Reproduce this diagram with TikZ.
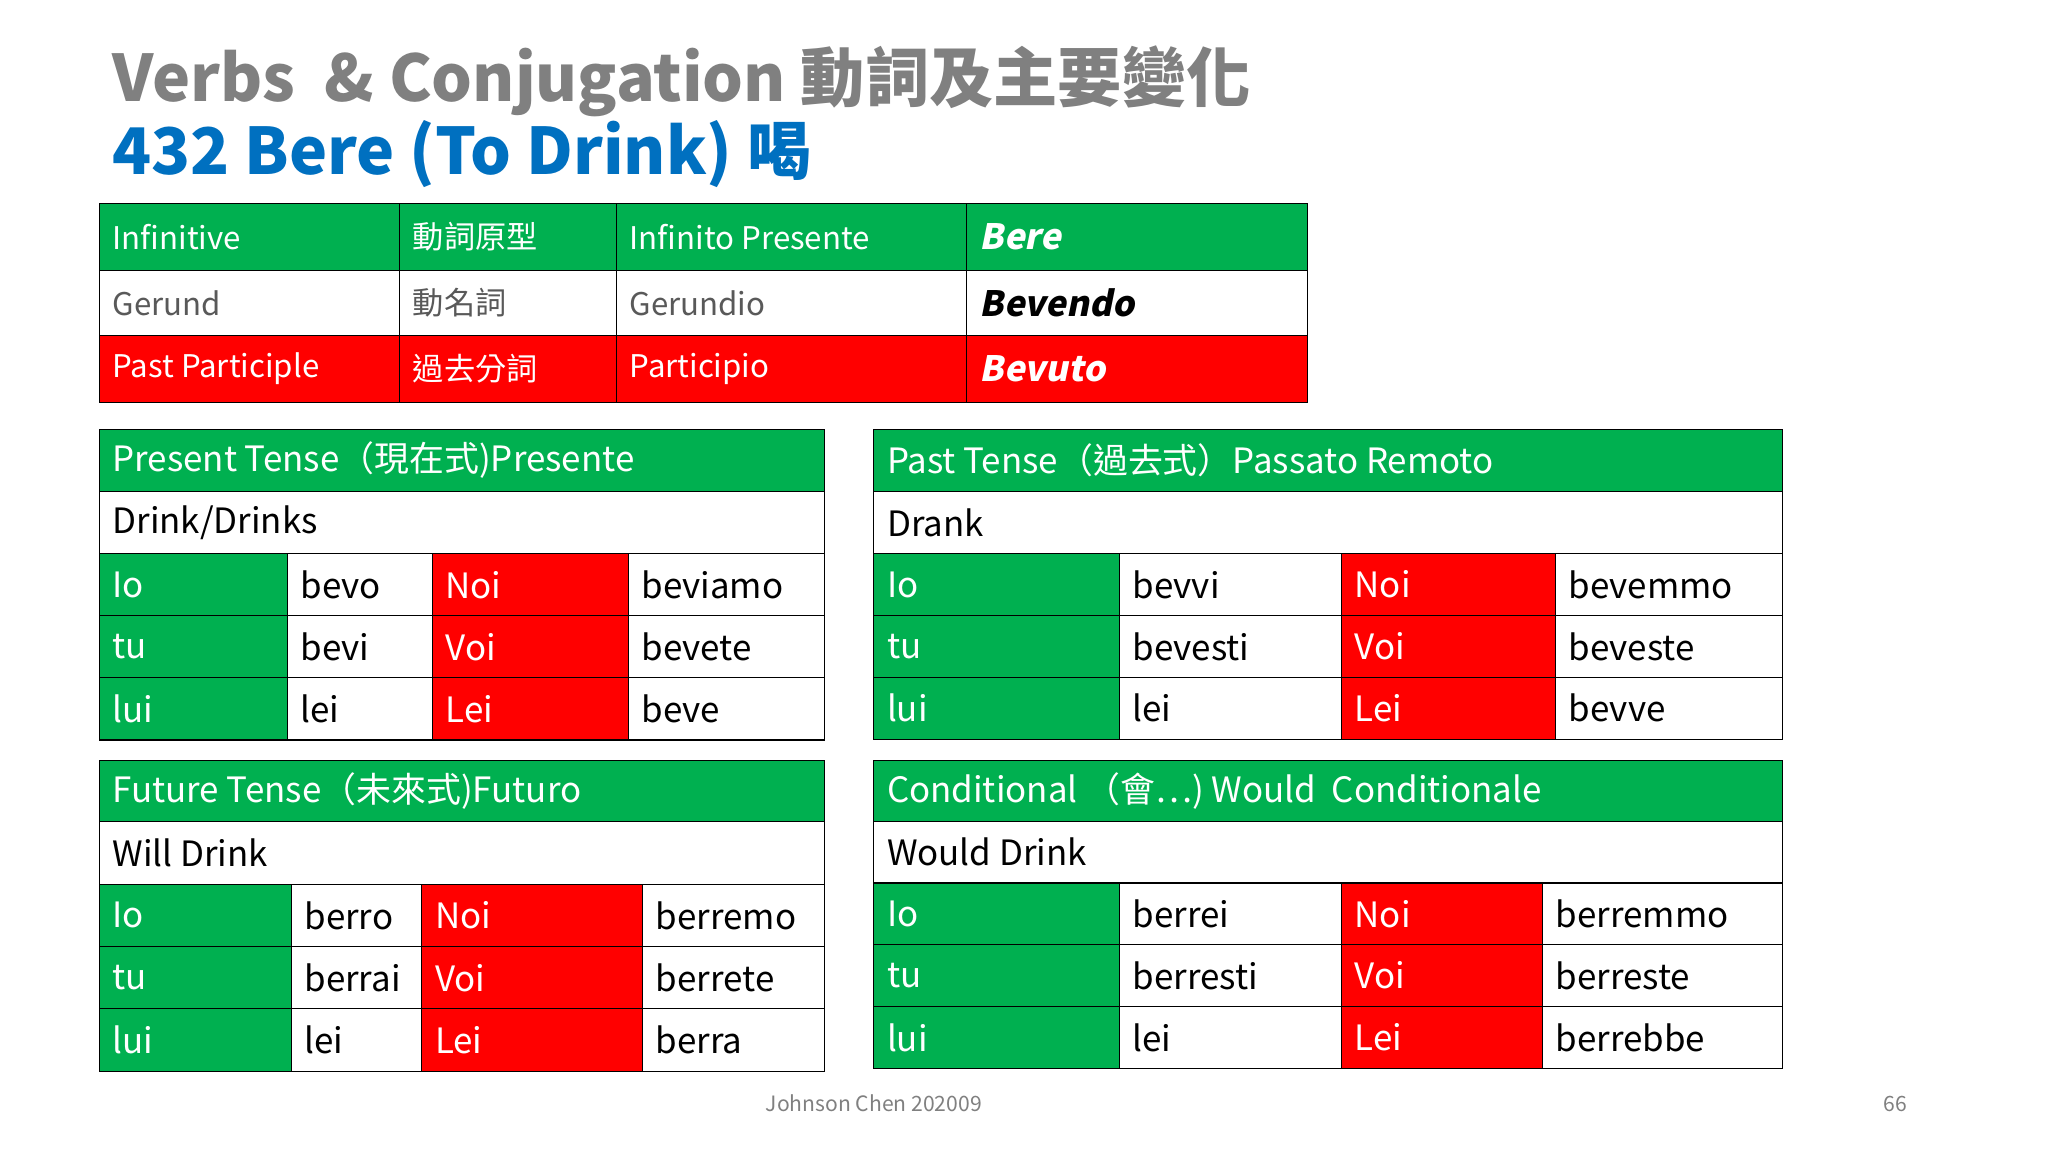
\documentclass[tikz,border=0pt]{standalone}
\usepackage{fontspec}
\setmainfont{Noto Sans CJK TC}
\newfontfamily\slfont[FakeSlant=0.2]{Noto Sans CJK TC}
\definecolor{gr}{HTML}{00B050}
\definecolor{rd}{HTML}{FF0000}
\definecolor{ttl}{HTML}{808080}
\definecolor{blu}{HTML}{0070C0}
\definecolor{txg}{HTML}{595959}
\newcommand\cell[8]{\filldraw[fill=#5,draw=black,line width=1.3pt] (#1,#2) rectangle (#3,#4);
 \node[anchor=west,text=#6,font=#8,inner sep=0] at ({#1+10},{(#2+#4)/2}) {#7};}
\tikzset{tb/.style={}}
\begin{document}
\begin{tikzpicture}[x=0.05cm,y=-0.05cm]
\useasboundingbox (0,0) rectangle (1568,882);
\fill[white] (0,0) rectangle (1568,882);
\def\ft{\fontsize{34}{34}\selectfont}
\def\fb{\fontsize{38}{38}\selectfont}
\node[anchor=west,text=ttl,font=\fontsize{70}{70}\selectfont\bfseries,inner sep=0] (t1) at (86,62) {Verbs\ \ \& Conjugation 動詞及主要變化};
\node[anchor=west,text=blu,font=\fontsize{70}{70}\selectfont\bfseries,inner sep=0] (t2) at (86,118) {432 Bere (To Drink) 喝};
% top table
\cell{76}{156}{306}{207}{gr}{white}{Infinitive}{\ft}
\cell{306}{156}{472}{207}{gr}{white}{動詞原型}{\ft}
\cell{472}{156}{740}{207}{gr}{white}{Infinito Presente}{\ft}
\cell{740}{156}{1001}{207}{gr}{white}{\slfont\bfseries Bere}{\fb}
\cell{76}{207}{306}{257}{white}{txg}{Gerund}{\ft}
\cell{306}{207}{472}{257}{white}{txg}{動名詞}{\ft}
\cell{472}{207}{740}{257}{white}{txg}{Gerundio}{\ft}
\cell{740}{207}{1001}{257}{white}{black}{\slfont\bfseries Bevendo}{\fb}
\cell{76}{257}{306}{308}{rd}{white}{Past Participle}{\ft}
\cell{306}{257}{472}{308}{rd}{white}{過去分詞}{\ft}
\cell{472}{257}{740}{308}{rd}{white}{Participio}{\ft}
\cell{740}{257}{1001}{308}{rd}{white}{\slfont\bfseries Bevuto}{\fb}
% conjugation tables
\newcommand\conj[9]{%
 % #1 x0, #2 x1, #3 x2, #4 x3, #5 x4, #6 y0, #7 row h, #8 header, #9 sub
 \cell{#1}{#6}{#5}{#6+#7}{gr}{white}{#8}{\fb}
 \cell{#1}{#6+#7}{#5}{#6+2*#7}{white}{black}{#9}{\fb}
 \foreach \p/\a/\b/\c [count=\i] in {Io/A1/Noi/B1,tu/A2/Voi/B2,lui\slash lei\slash Lei/A3/Loro\slash Loro/B3}{}
}
\newcommand\rows[9]{%
 % #1..#5 x, #6 y start, #7 h, #8 verbs list a1,a2,a3 ; #9 b1,b2,b3
 \foreach \pr/\vb/\pl/\vp [count=\i from 0] in {#8}{
  \pgfmathsetmacro\ya{#6+\i*#7}\pgfmathsetmacro\yb{#6+(\i+1)*#7}
  \cell{#1}{\ya}{#2}{\yb}{gr}{white}{\pr}{\fb}
  \cell{#2}{\ya}{#3}{\yb}{white}{black}{\vb}{\fb}
  \cell{#3}{\ya}{#4}{\yb}{rd}{white}{\pl}{\fb}
  \cell{#4}{\ya}{#5}{\yb}{white}{black}{\vp}{\fb}
 }}
% Present
\cell{76}{329}{631}{376}{gr}{white}{Present Tense（現在式)Presente}{\fb}
\cell{76}{376}{631}{424}{white}{black}{Drink/Drinks}{\fb}
\rows{76}{220}{331}{481}{631}{424}{47.5}{Io/bevo/Noi/beviamo,tu/bevi/Voi/bevete,lui/lei/Lei/beve/Loro/Loro/bevono}{}
% Past
\cell{669}{329}{1365}{376}{gr}{white}{Past Tense（過去式）Passato Remoto}{\fb}
\cell{669}{376}{1365}{424}{white}{black}{Drank}{\fb}
\rows{669}{857}{1027}{1191}{1365}{424}{47.3}{Io/bevvi/Noi/bevemmo,tu/bevesti/Voi/beveste,lui/lei/Lei/bevve/Loro/Loro/bvevvero}{}
% Future
\cell{76}{582}{631}{629}{gr}{white}{Future Tense（未來式)Futuro}{\fb}
\cell{76}{629}{631}{677}{white}{black}{Will Drink}{\fb}
\rows{76}{223}{323}{492}{631}{677}{47.7}{Io/berro/Noi/berremo,tu/berrai/Voi/berrete,lui/lei/Lei/berra/Loro/Loro/berranno}{}
% Conditional
\cell{669}{582}{1365}{629}{gr}{white}{Conditional （會…) Would\ \ Conditionale}{\fb}
\cell{669}{629}{1365}{676}{white}{black}{Would Drink}{\fb}
\rows{669}{857}{1027}{1181}{1365}{676}{47.3}{Io/berrei/Noi/berremmo,tu/berresti/Voi/berreste,lui/lei/Lei/berrebbe/Loro/Loro/berrebbero}{}
\node[text=ttl,font=\fontsize{23}{23}\selectfont] (ft) at (669,845) {Johnson Chen 202009};
\node[text=ttl,font=\fontsize{23}{23}\selectfont] (pg) at (1451,845) {66};
\end{tikzpicture}
\end{document}
